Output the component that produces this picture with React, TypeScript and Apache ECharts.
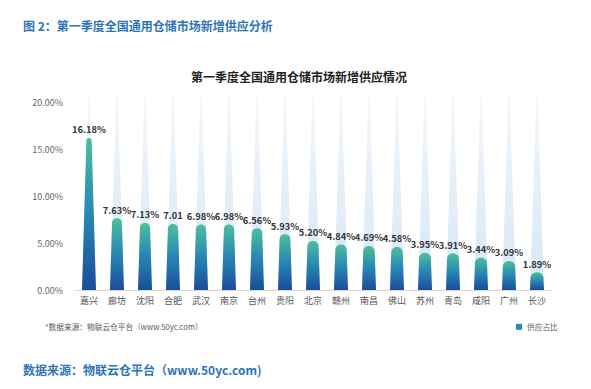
import React, { useEffect, useRef } from "react";
import * as echarts from "echarts";

const categories = ["嘉兴", "廊坊", "沈阳", "合肥", "武汉", "南京", "台州", "贵阳", "北京", "赣州", "南昌", "佛山", "苏州", "青岛", "咸阳", "广州", "长沙"];
const supplyShare = [16.18, 7.63, 7.13, 7.01, 6.98, 6.98, 6.56, 5.93, 5.2, 4.84, 4.69, 4.58, 3.95, 3.91, 3.44, 3.09, 1.89];
const valueLabels = ["16.18%", "7.63%", "7.13%", "7.01", "6.98%", "6.98%", "6.56%", "5.93%", "5.20%", "4.84%", "4.69%", "4.58%", "3.95%", "3.91%", "3.44%", "3.09%", "1.89%"];
const yTicks = [0, 5, 10, 15, 20];
const axisMax = 20;

const FONT = "'Noto Sans CJK SC', 'Noto Sans', sans-serif";

export default function App() {
  const ref = useRef<HTMLDivElement>(null);
  useEffect(() => {
    if (!ref.current) return;
    const chart = echarts.init(ref.current, undefined, { renderer: "svg" });
    const bgData = categories.map(() => axisMax);
    const barW = 14;

    const option: any = {
      animation: false,
      textStyle: { fontFamily: FONT },
      title: [
        {
          text: "图 2：第一季度全国通用仓储市场新增供应分析",
          left: 23,
          top: 19,
          padding: 0,
          textStyle: { fontSize: 12, fontWeight: "bold", color: "#2e74b5", fontFamily: FONT },
        },
        {
          text: "第一季度全国通用仓储市场新增供应情况",
          left: 299,
          textAlign: "center",
          top: 70,
          padding: 0,
          textStyle: { fontSize: 12, fontWeight: "bold", color: "#222", fontFamily: FONT },
        },
        {
          text: "*数据来源：物联云仓平台（www.50yc.com）",
          left: 45,
          top: 323,
          padding: 0,
          textStyle: { fontSize: 7.7, fontWeight: "normal", color: "#595959", fontFamily: FONT },
        },
        {
          text: "数据来源：物联云仓平台（www.50yc.com)",
          left: 23,
          top: 363,
          padding: 0,
          textStyle: { fontSize: 12, fontWeight: "bold", color: "#2e74b5", fontFamily: FONT },
        },
      ],
      legend: {
        data: ["供应占比"],
        left: 516,
        top: 323,
        padding: 0,
        icon: "rect",
        itemWidth: 6,
        itemHeight: 6,
        itemGap: 4,
        textStyle: { fontSize: 7.7, color: "#595959", fontFamily: FONT },
      },
      grid: { left: 75, right: 40, top: 102, bottom: 99, containLabel: false },
      xAxis: {
        type: "category",
        data: categories,
        axisLine: { show: true, lineStyle: { color: "#d9d9d9" } },
        axisTick: { show: false },
        axisLabel: { fontSize: 9, color: "#555", margin: 6, interval: 0 },
      },
      yAxis: {
        type: "value",
        min: yTicks[0],
        max: yTicks[yTicks.length - 1],
        interval: 5,
        axisLine: { show: false },
        axisTick: { show: false },
        splitLine: { show: false },
        axisLabel: {
          fontSize: 9,
          color: "#666",
          margin: 12,
          formatter: (v: number) => v.toFixed(2) + "%",
        },
      },
      series: [
        {
          type: "custom",
          name: "bg",
          silent: true,
          data: bgData,
          z: 1,
          renderItem: (params: any, api: any) => {
            const idx = api.value(0);
            const base = api.coord([idx, 0]);
            const top = api.coord([idx, api.value(1)]);
            const x = base[0];
            const yb = base[1];
            const yt = top[1] - 6;
            return {
              type: "polygon",
              shape: {
                points: [
                  [x - barW / 2, yb],
                  [x - 0.6, yt],
                  [x + 0.6, yt],
                  [x + barW / 2, yb],
                ],
              },
              style: {
                fill: new echarts.graphic.LinearGradient(0, 0, 0, 1, [
                  { offset: 0, color: "rgba(226,237,248,0.5)" },
                  { offset: 1, color: "#d6e6f5" },
                ]),
              },
            };
          },
          encode: { x: 0, y: 1 },
        },
        {
          type: "custom",
          name: "供应占比",
          data: supplyShare,
          z: 2,
          itemStyle: { color: "#2a8cb4" },
          renderItem: (params: any, api: any) => {
            const idx = api.value(0);
            const base = api.coord([idx, 0]);
            const top = api.coord([idx, api.value(1)]);
            const apex = api.coord([idx, axisMax * 1.3]);
            const x = base[0];
            const yb = base[1];
            const yt = top[1];
            const totalH = yb - apex[1];
            const h = yb - yt;
            let wt = barW * (1 - h / totalH);
            if (wt < 5) wt = 5;
            const r = wt / 2;
            const ys = yt + r;
            const k = (4 / 3) * r;
            const d =
              `M${x - barW / 2},${yb} L${x - r},${ys} ` +
              `C${x - r},${ys - k} ${x + r},${ys - k} ${x + r},${ys} ` +
              `L${x + barW / 2},${yb} Z`;
            return {
              type: "path",
              shape: { pathData: d },
              style: {
                fill: new echarts.graphic.LinearGradient(0, 0, 0, 1, [
                  { offset: 0, color: "#4cc09a" },
                  { offset: 0.45, color: "#2a8cb4" },
                  { offset: 1, color: "#1a4c9c" },
                ]),
              },
            };
          },
          encode: { x: 0, y: 1 },
        },
        {
          type: "bar",
          name: "labels",
          data: supplyShare,
          barWidth: 14,
          z: 3,
          silent: true,
          itemStyle: { color: "rgba(0,0,0,0)" },
          label: {
            show: true,
            position: "top",
            distance: 4,
            fontSize: 9.3,
            fontWeight: "bold",
            color: "#333",
            fontFamily: FONT,
            formatter: (p: any) => valueLabels[p.dataIndex],
          },
        },
      ],
    };
    chart.setOption(option);
    return () => chart.dispose();
  }, []);

  return (
    <div
      ref={ref}
      style={{ position: "fixed", left: 0, top: 0, width: 591, height: 389, background: "#fff" }}
    />
  );
}
